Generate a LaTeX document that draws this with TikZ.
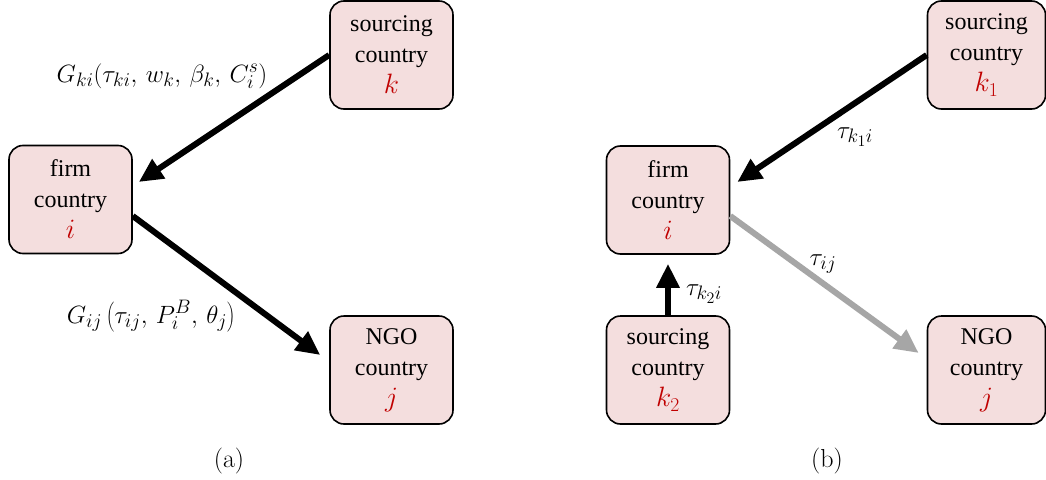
\RequirePackage{fix-cm}
\documentclass[tikz,border=0pt]{standalone}
\usepackage{fontspec}
\setmainfont{Liberation Serif}
\newfontfamily\lmfont{Latin Modern Roman}
\usetikzlibrary{arrows.meta}
\DeclareMathSizes{25}{25}{19.5}{16}
\definecolor{boxfill}{HTML}{F4DEDE}
\definecolor{varred}{HTML}{C00000}
\definecolor{arrgray}{HTML}{A6A6A6}
\begin{document}
\begin{tikzpicture}[x=1pt,y=-1pt,
  box/.style={draw=black,line width=1.6pt,fill=boxfill,rounded corners=14pt,
    minimum width=123pt,minimum height=108pt,align=center,inner sep=0pt,
    font=\fontsize{24}{31}\selectfont},
  arr/.style={line width=6pt,-{Triangle[length=24pt,width=22pt]}},
  grayarr/.style={arr,draw=arrgray},
  lab/.style={anchor=base,inner sep=0pt,font=\fontsize{25}{28}\selectfont},
  captext/.style={anchor=base,inner sep=0pt,font=\lmfont\fontsize{26}{29}\selectfont}]
\newcommand{\rv}[1]{{\fontsize{28}{31}\selectfont\color{varred}$#1$}}
\useasboundingbox (0,0) rectangle (1046,479);
% panel (a)
\node[box] (ka) at (391.5,55) {sourcing\\country\\\rv{k}};
\node[box] (ia) at (70.5,199.5) {firm\\country\\\rv{i}};
\node[box] (ja) at (391.5,370) {NGO\\country\\\rv{j}};
\draw[arr] (ka.west) -- ([xshift=6pt,yshift=17.5pt]ia.east);
\draw[arr] ([yshift=-16.5pt]ia.east) -- ([xshift=-9pt,yshift=15pt]ja.west);
\node[lab] (gki) at (162,82) {$G_{ki}(\tau_{ki},\,w_k,\,\beta_k,\,C_i^s)$};
\node[lab] (gij) at (151,323) {$G_{ij}\left(\tau_{ij},\,P_i^B,\,\theta_j\right)$};
\node[captext] (capa) at (229,467) {(a)};
% panel (b)
\node[box,minimum width=118pt] (kb1) at (986.5,55) {sourcing\\country\\\rv{k_1}};
\node[box] (ib) at (668,200) {firm\\country\\\rv{i}};
\node[box] (kb2) at (668,370) {sourcing\\country\\\rv{k_2}};
\node[box,minimum width=118pt] (jb) at (986.5,370) {NGO\\country\\\rv{j}};
\draw[arr] (kb1.west) -- ([xshift=7pt,yshift=18pt]ib.east);
\draw[grayarr] ([yshift=-16pt]ib.east) -- ([xshift=-8pt,yshift=17pt]jb.west);
\draw[arr] (kb2.north) -- ([yshift=-9pt]ib.south);
\node[lab] (tk1) at (855,138) {$\tau_{k_1i}$};
\node[lab] (tij) at (823,265) {$\tau_{ij}$};
\node[lab] (tk2) at (704,295) {$\tau_{k_2i}$};
\node[captext] (capb) at (827,467) {(b)};
\end{tikzpicture}
\end{document}
